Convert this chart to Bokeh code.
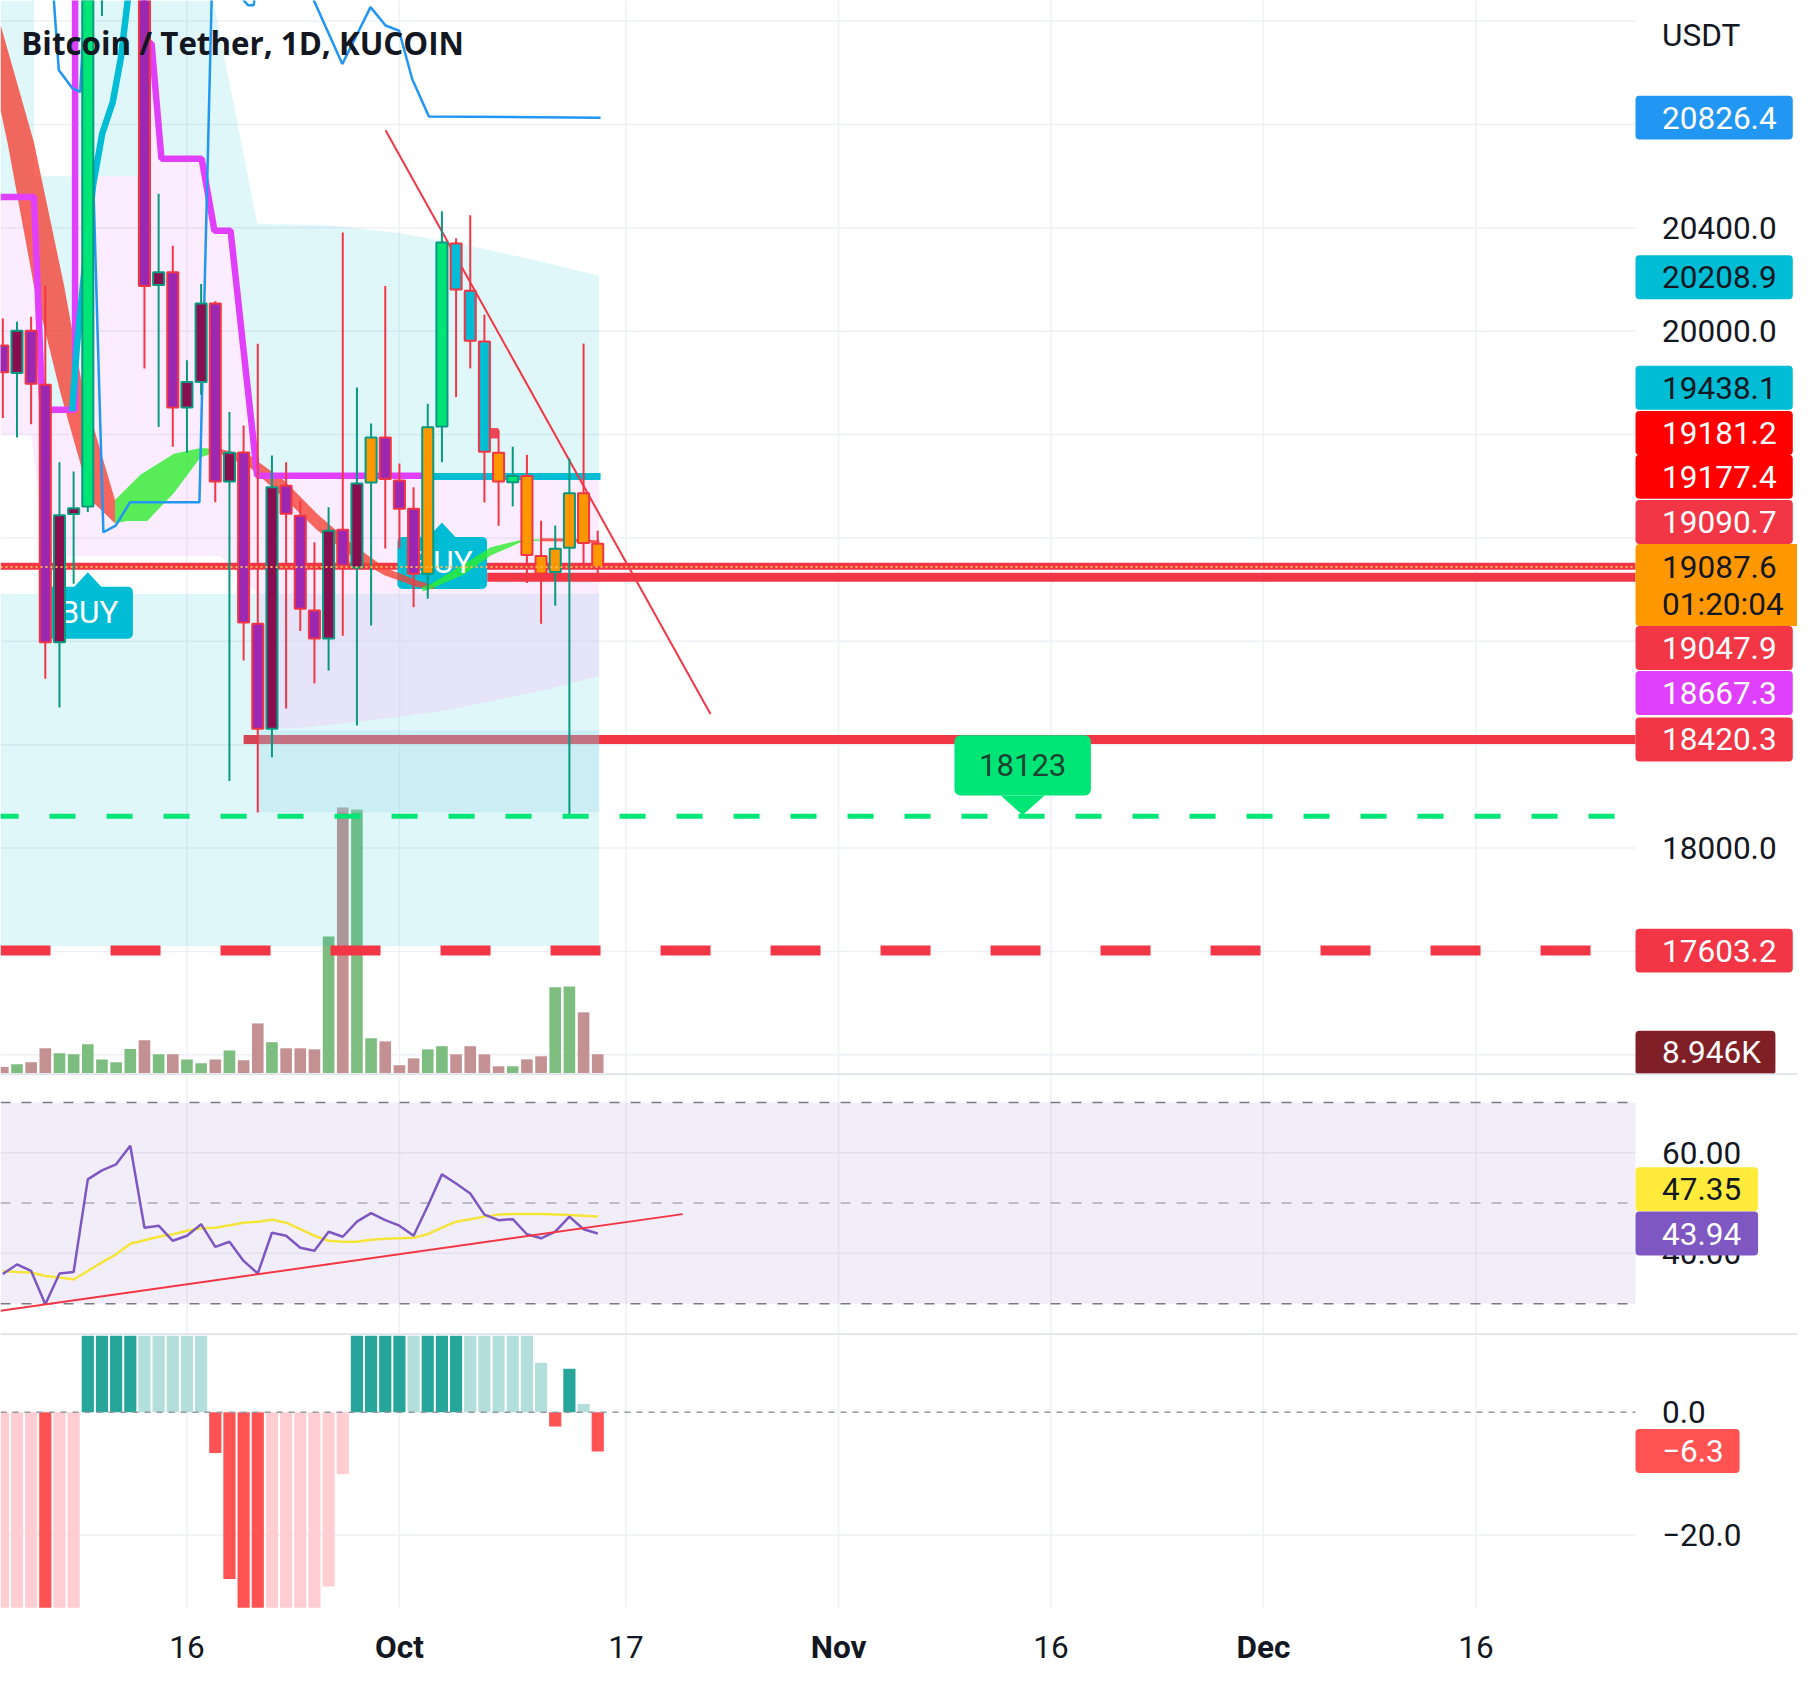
import numpy as np
import pandas as pd
from bokeh.plotting import figure
from bokeh.layouts import column
from bokeh.models import Range1d
from bokeh.core.properties import value
from bokeh.embed import file_html
from bokeh.resources import INLINE

# =============================== DATA ===============================
dates = pd.date_range("2022-09-03", "2022-10-15", freq="D")
ORIGIN = pd.Timestamp("2022-10-01")
day = np.asarray((dates - ORIGIN).days, dtype=float)

open_ = [19945, 19838, 20002, 19793, 18796, 19293, 19322, 21360, 21650, 21770,
         22390, 20179, 20228, 19705, 19803, 20107, 19418, 19531, 18868, 18462,
         19402, 19286, 18919, 18811, 19232, 19086, 19415, 19589, 19422, 19313,
         19061, 19631, 20339, 20157, 19960, 19530, 19416, 19440, 19130, 19068,
         19162, 19373, 19178]
high_ = [20049, 20037, 20056, 20176, 19493, 19457, 21500, 21800, 21830, 22480,
         22780, 20532, 20331, 19888, 20183, 20116, 19687, 19635, 19951, 19519,
         19493, 19344, 19183, 19319, 20382, 19782, 19643, 20175, 19488, 19396,
         19719, 20464, 20360, 20449, 20064, 19618, 19553, 19522, 19267, 19248,
         19507, 19952, 19228]
low_ = [19664, 19589, 19640, 18655, 18544, 19023, 19300, 21220, 21370, 21560,
        19856, 19629, 19553, 19530, 19754, 19338, 18260, 18726, 18138, 18351,
        18540, 18840, 18637, 18687, 18822, 18474, 18861, 19159, 19160, 18932,
        18965, 19493, 19745, 19856, 19337, 19247, 19322, 19026, 18868, 18938,
        18123, 19086, 19061]
close_ = [19841, 20002, 19797, 18796, 19288, 19315, 21360, 21650, 21770, 22390,
          20175, 20228, 19705, 19803, 20107, 19418, 19530, 18873, 18462, 19396,
          19294, 18926, 18811, 19228, 19093, 19411, 19589, 19428, 19313, 19061,
          19628, 20343, 20161, 19963, 19534, 19418, 19440, 19134, 19062, 19158,
          19373, 19180, 19087.6]
# candle colouring state of the indicator: p=purple, m=maroon, g=green, c=cyan, o=orange
body_state = list("pmppmmggggpmpmmpmppmpppmpmopppogcccogoooooo")

volume_k = [2.9, 4.2, 5.1, 11.8, 9.4, 8.9, 13.7, 6.5, 5.1, 11.5,
            15.6, 8.9, 8.9, 6.5, 4.6, 6.5, 10.8, 6.1, 23.7, 14.7,
            11.8, 11.8, 11.3, 65.3, 127.0, 126.0, 16.6, 15.1, 3.7, 7.0,
            11.3, 12.8, 8.9, 12.8, 8.9, 3.2, 3.2, 6.5, 8.0, 41.0,
            41.4, 29.0, 8.946]

rsi = [35.9, 37.8, 36.5, 29.9, 36.0, 36.3, 54.7, 56.5, 57.7, 61.4,
       45.1, 45.5, 42.5, 43.5, 45.8, 41.3, 42.3, 38.5, 36.0, 44.1,
       43.5, 41.1, 40.5, 44.3, 43.3, 46.3, 48.0, 46.6, 45.5, 43.5,
       49.4, 55.7, 53.9, 51.9, 47.7, 46.6, 46.8, 43.8, 43.0, 44.3,
       47.3, 44.8, 43.94]
rsi_ma = [36.5, 36.3, 36.2, 35.5, 35.2, 34.8, 36.5, 38.2, 39.8, 41.9,
          42.6, 43.3, 43.8, 44.5, 45.0, 45.1, 45.6, 46.1, 46.3, 46.7,
          46.1, 44.8, 43.5, 42.5, 42.3, 42.3, 42.7, 42.9, 43.0, 43.1,
          43.8, 45.1, 46.3, 46.8, 47.3, 47.7, 47.8, 47.8, 47.8, 47.7,
          47.6, 47.5, 47.35]
rsi_trend_d = [-28.16, 20.0]
rsi_trend_v = [28.6, 47.8]

macd_hist = [-45, -42, -40, -48, -44, -38, 20, 26, 31, 34,
             31, 27, 23, 19, 15, -6.65, -27.2, -36, -42, -40,
             -38, -36, -34, -28.4, -10.1, 14, 19, 23, 26, 24,
             27, 31, 33, 30, 25, 20, 16, 13, 8.1, -2.3,
             7.1, 1.35, -6.38]

# indicator overlays on the price pane (day offset from Oct 1, price)
mag_d = [-28.16, -25.8, -25.2, -22.9, -22.9, -18.04, -18.04, -17.5, -16.8, -13.96, -13.06, -11.92, -10.04, 1.63]
mag_p = [20519, 20519, 19696, 19696, 21500, 21500, 21114, 21114, 20667, 20667, 20389, 20389, 19441, 19441]
cyan_d = [-23.1, -22.78, -22.29, -21.63, -20.98, -20.24, -19.67, -19.18, -18.8]
cyan_p = [19691, 19937, 20206, 20564, 20765, 20886, 21056, 21280, 21450]
cyan2_d = [1.63, 14.2]
cyan2_p = [19438.1, 19438.1]
blue_d = [-24.51, -24.05, -23.10, -22.53, -22.12, -21.80, -21.63, -20.90, -20.03, -19.02, -14.12,
          -13.22, -11.27, -10.98, -10.69, -10.29, -10.04, -6.29, -6.04, -4.03, -2.04, -0.98, -0.03,
          0.90, 2.08, 14.20]
blue_p = [21369, 21011, 20941, 20926, 21369, 21369, 20608, 19222, 19248, 19338, 19338,
          21369, 21369, 21280, 21261, 21261, 21369, 21369, 21280, 21034, 21254, 21183, 21163,
          20976, 20831, 20826.4]
trend_d = [-0.98, 21.96]
trend_p = [20778, 18519]

# ribbon (two MAs) segments
r1_up_d = [-28.16, -25.8, -23.67, -22.29, -20.08]
r1_up_p = [21186, 20730, 20175, 19759, 19347]
r1_lo_d = [-28.16, -27.67, -25.8, -23.92, -21.8, -20.08]
r1_lo_p = [20855, 20730, 20175, 19759, 19347, 19257]
r2_up_d = [-20.08, -18.29, -15.92, -14.04, -12.65]
r2_up_p = [19347, 19445, 19526, 19548, 19544]
r2_lo_d = [-20.08, -19.2, -17.8, -15.92, -14.04, -12.65]
r2_lo_p = [19257, 19266, 19266, 19374, 19512, 19535]
r3_d = [-12.65, -10.53, -8.16, -5.80, -3.35, -1.06, 1.31, 2.45]
r3_up = [19544, 19517, 19423, 19293, 19177, 19087, 19034, 19016]
r3_lo = [19526, 19472, 19356, 19230, 19128, 19056, 19009, 19002]
r4_d = [1.63, 2.2, 4.57, 6.45, 8.57, 10.04]
r4_up = [19011, 19022, 19099, 19164, 19192, 19195]
r4_lo = [18993, 19002, 19060, 19132, 19183, 19190]
r5_d = [10.04, 12.0, 14.12]
r5_p = [19193, 19192, 19184]

# shaded zones
u_top_d = [-28.16, -25.8, -25.8, -22.9, -22.9, -13.14, -10.04, -5.0, 0.0, 5.0, 10.0, 14.1]
u_top_p = [21280, 21280, 20600, 20600, 21280, 21280, 20416, 20410, 20380, 20330, 20270, 20215]
cm_d = [-28.16, -25.8, -25.2, -22.9, -22.9, -18.04, -18.04, -17.5, -16.8, -13.96, -13.06, -11.92, -10.04, 14.1]
cm_p = [20519, 20519, 19696, 19696, 20600, 20600, 21114, 21114, 20667, 20667, 20389, 20389, 19441, 19441]
pb_d = [-28.16, -26.0, -25.0, -12.65, -10.04, 14.1]
pb_p = [19600, 19600, 19130, 19130, 18984, 18984]
low_zone = (-28.16, 14.1, 18984, 17620)
box_zone = (-10.04, 14.1, 18456, 18139)
v_top = 18984
v_d = [-10.04, -6.0, -0.25, 3.5, 6.7, 10.5, 14.1]
v_p = [18456, 18470, 18506, 18535, 18571, 18615, 18667]

# horizontal levels (value, start day)
lvl_19090 = (19090.7, -28.16)
lvl_19047 = (19047.9, 6.2)
lvl_18420 = (18420.3, -11.0)
lvl_18123 = (18123.0, -28.16)
lvl_17603 = (17603.2, -28.16)
flag_box = (6.2, 7.0, 19625, 19585)

buy_days = [-22.0, 3.0]
buy_prices = [19067, 19260]
note_day, note_price, note_text = 44.0, 18123, "18123"

# axis ticks
xtick_days = [-15, 0, 16, 31, 46, 61, 76]
xtick_labels = ["16", "Oct", "17", "Nov", "16", "Dec", "16"]
xtick_bold = [False, True, False, True, False, True, False]
price_grid = [17200, 17600, 18000, 18400, 18800, 19200, 19600, 20000, 20400, 20800, 21200]
price_ticks = [20400, 20000, 18000]
price_tick_labels = ["20400.0", "20000.0", "18000.0"]

tag_text = ["20826.4", "20208.9", "19438.1", "19181.2", "19177.4", "19090.7", "19047.9", "18667.3", "18420.3", "17603.2"]
tag_value = [20826.4, 20208.9, 19438.1, 19181.2, 19177.4, 19090.7, 19047.9, 18667.3, 18420.3, 17603.2]
tag_fill = ["#2196f3", "#00bcd4", "#00bcd4", "#ff0000", "#ff0000", "#f23645", "#f23645", "#e040fb", "#f23645", "#f23645"]
tag_ink = ["white", "#131722", "#131722", "white", "white", "white", "white", "white", "white", "white"]
last_price, countdown = 19087.6, "01:20:04"
vol_tag = (8.946, "8.946K")

# ======================= LAYOUT / SCALES ==========================
# layout units: reference screen units; K real pixels per unit
K = 1.1563
O = 0.0
W, H1, H2, H3 = 1797, 1075, 260, 331
B0 = O
B1 = B0 + H1 / K
B2 = B1 + H2 / K
B3 = B2 + H3 / K
SX0, SX1 = O, O + W / K

OCT1_X, DAY_PX = 345.0, 12.25
PRICE_REF, PRICE_Y, PRICE_PX = 20000.0, 286.0, 0.2235
VOL_Y, VOL_PX = 927.5, 1.808
RSI_REF, RSI_Y, RSI_PX = 50.0, 1040.0, 4.35
MACD_Y, MACD_PX = 1221.0, 5.3
PLOT_RIGHT = 1414.0
MACD_BOTTOM = 1390.0

def d_of(x): return (x - OCT1_X) / DAY_PX
def p_of(y): return PRICE_REF - (y - PRICE_Y) / PRICE_PX
def v_of(y): return (VOL_Y - y) / VOL_PX
def r_of(y): return RSI_REF - (y - RSI_Y) / RSI_PX
def m_of(y): return -(y - MACD_Y) / MACD_PX

def sx(d): return OCT1_X + np.asarray(d, float) * DAY_PX
def sy_price(v): return PRICE_Y + (PRICE_REF - np.asarray(v, float)) * PRICE_PX
def sy_vol(v): return VOL_Y - v * VOL_PX
def sy_rsi(v): return RSI_Y + (RSI_REF - v) * RSI_PX
def sy_macd(v): return MACD_Y - v * MACD_PX

X0, X1 = d_of(SX0), d_of(SX1)
XR = d_of(PLOT_RIGHT)
MACD_FLOOR = m_of(MACD_BOTTOM)

FONT = value("Roboto")
FS = "31.5px"
INK = "#131722"
GRID = "#eef0f5"
UP_EDGE, DN_EDGE = "#089981", "#f23645"
BODY = {"p": "#9c27b0", "m": "#880e4f", "g": "#00e676", "c": "#00bcd4", "o": "#ff9800"}

xr = Range1d(X0, X1)

def make(h, y0, y1, s_top, s_bot):
    p = figure(width=W, height=h, x_range=xr, y_range=Range1d(y0, y1),
               x_axis_type=None, y_axis_type=None, toolbar_location=None,
               output_backend="svg", min_border=0)
    p.min_border_left = p.min_border_right = p.min_border_top = p.min_border_bottom = 0
    p.title.visible = False
    p.outline_line_color = None
    p.background_fill_color = "white"
    p.border_fill_color = "white"
    p.extra_x_ranges = {"sx": Range1d(SX0, SX1)}
    p.extra_y_ranges = {"sy": Range1d(s_bot, s_top)}
    return p

def txt(p, xs, ys, texts, color=INK, size=FS, align="left", style="normal", font=FONT):
    p.text(x=list(xs), y=list(ys), text=list(texts), text_color=color, text_font=font,
           text_font_size=size, text_align=align, text_baseline="middle",
           text_font_style=style, x_range_name="sx", y_range_name="sy")

def boxes(p, lefts, rights, tops, bottoms, colors, radius=4):
    p.quad(left=list(lefts), right=list(rights), top=list(tops), bottom=list(bottoms),
           fill_color=colors, line_color=None, border_radius=radius,
           x_range_name="sx", y_range_name="sy")

# ============================ PRICE PANE ============================
p1 = make(H1, p_of(B1), p_of(B0), B0, B1)
p1.extra_y_ranges = {"sy": Range1d(B1, B0), "vol": Range1d(v_of(B1), v_of(B0))}

p1.segment(x0=X0, y0=price_grid, x1=XR, y1=price_grid, line_color=GRID, line_width=1.5)
p1.segment(x0=xtick_days, y0=p_of(B1), x1=xtick_days, y1=p_of(B0), line_color=GRID, line_width=1.5)

up = np.array(close_) >= np.array(open_)
vol_col = ["#7dbd80" if u else "#c39192" for u in up]
p1.vbar(x=day, top=volume_k, bottom=0, width=0.82, fill_color=vol_col, line_color=None,
        y_range_name="vol")

p1.line([lvl_18420[1], XR], [lvl_18420[0]] * 2, line_color="#f23645", line_width=9)

# shaded zones
p1.patch(u_top_d + cm_d[::-1], u_top_p + cm_p[::-1], fill_color="#00bcd4", fill_alpha=0.12, line_color=None)
p1.patch(cm_d + pb_d[::-1], cm_p + pb_p[::-1], fill_color="#e040fb", fill_alpha=0.1, line_color=None)
p1.quad(left=[low_zone[0]], right=[low_zone[1]], top=[low_zone[2]], bottom=[low_zone[3]],
        fill_color="#00bcd4", fill_alpha=0.12, line_color=None)
p1.patch([v_d[0], v_d[-1]] + v_d[::-1], [v_top, v_top] + v_p[::-1],
         fill_color="#ead1f6", fill_alpha=0.5, line_color=None)
p1.quad(left=[box_zone[0]], right=[box_zone[1]], top=[box_zone[2]], bottom=[box_zone[3]],
        fill_color="#9ddce9", fill_alpha=0.3, line_color=None)

# level lines below labels and candles
p1.line([lvl_19047[1], XR], [lvl_19047[0]] * 2, line_color="#f23645", line_width=9)
p1.line([lvl_19090[1], XR], [lvl_19090[0]] * 2, line_color="#f23645", line_width=7)

# BUY label shapes
buy_xy = [(float(sx(d)), float(sy_price(pr))) for d, pr in zip(buy_days, buy_prices)]
for tx, ty in buy_xy:
    p1.patch([tx - 12, tx, tx + 12], [ty + 13, ty, ty + 13], fill_color="#00bcd4",
             line_color=None, x_range_name="sx", y_range_name="sy")
    boxes(p1, [tx - 38.5], [tx + 39], [ty + 12.5], [ty + 57.5], "#00bcd4", radius=5)

# ribbon
p1.patch(r1_up_d + r1_lo_d[::-1], r1_up_p + r1_lo_p[::-1], fill_color="#f44336", fill_alpha=0.8, line_color=None)
p1.patch(r2_up_d + r2_lo_d[::-1], r2_up_p + r2_lo_p[::-1], fill_color="#2eed2e", fill_alpha=0.8, line_color=None)
p1.patch(r3_d + r3_d[::-1], r3_up + r3_lo[::-1], fill_color="#f44336", fill_alpha=0.8, line_color=None)
p1.patch(r4_d + r4_d[::-1], r4_up + r4_lo[::-1], fill_color="#2eed2e", fill_alpha=0.8, line_color=None)
p1.line(r5_d, r5_p, line_color="#f44336", line_width=3, line_alpha=0.85)

for tx, ty in buy_xy:
    txt(p1, [tx + 1], [ty + 35], ["BUY"], color="white", align="center")

# trailing lines
p1.line(mag_d, mag_p, line_color="#e040fb", line_width=6.5)
p1.line(cyan_d, cyan_p, line_color="#00bcd4", line_width=6.5)
p1.line(cyan2_d, cyan2_p, line_color="#00bcd4", line_width=7)
p1.line(blue_d, blue_p, line_color="#2196f3", line_width=2.5)
p1.line(trend_d, trend_p, line_color="#f23645", line_width=2)
p1.quad(left=[flag_box[0]], right=[flag_box[1]], top=[flag_box[2]], bottom=[flag_box[3]],
        fill_color="#e84855", line_color=None)

# candles
edge = [UP_EDGE if u else DN_EDGE for u in up]
fills = [BODY[s] for s in body_state]
p1.segment(x0=day, y0=low_, x1=day, y1=high_, line_color=edge, line_width=2)
p1.quad(left=day - 0.39, right=day + 0.39,
        top=np.maximum(open_, close_), bottom=np.minimum(open_, close_),
        fill_color=fills, line_color=edge, line_width=2)

# last-price dotted line and other levels on top
p1.line([X0, XR], [last_price] * 2, line_color="#ffb74d", line_width=2, line_dash="2 3")
p1.line([lvl_17603[1], XR], [lvl_17603[0]] * 2, line_color="#f23645", line_width=10, line_dash="50 60")
p1.line([lvl_18123[1], XR], [lvl_18123[0]] * 2, line_color="#00e676", line_width=5,
        line_dash="26 31", line_dash_offset=8)

# 18123 note
tx, ty = float(sx(note_day)), float(sy_price(note_price))
p1.patch([tx - 19, tx, tx + 19], [ty - 18, ty - 1, ty - 18], fill_color="#00e676",
         line_color=None, x_range_name="sx", y_range_name="sy")
boxes(p1, [tx - 59], [tx + 59], [ty - 70], [ty - 18], "#00e676", radius=6)
txt(p1, [tx], [ty - 44], [note_text], color="#1b4332", size="31px", align="center")

# right scale of price pane
TX = 1437
txt(p1, [TX], [30], ["USDT"])
txt(p1, [TX] * len(price_ticks), [float(sy_price(v)) for v in price_ticks], price_tick_labels)
tag_shift = [0, 0, -76.6, -95, -57.9, -38.2, 61.2, 15.1, 0, 0]
tag_y = [float(sy_price(v)) + s for v, s in zip(tag_value, tag_shift)]
boxes(p1, [PLOT_RIGHT] * len(tag_y), [1550] * len(tag_y), [y - 19 for y in tag_y], [y + 19 for y in tag_y], tag_fill)
txt(p1, [TX] * len(tag_y), tag_y, tag_text, color=tag_ink)
ly = float(sy_price(last_price)) + 15.6
boxes(p1, [PLOT_RIGHT], [1557], [ly - 35.5], [ly + 35.5], "#ff9800")
txt(p1, [TX, TX], [ly - 15.5, ly + 16.5], [f"{last_price:.1f}", countdown])
vy = float(sy_vol(vol_tag[0])) - 1.3
boxes(p1, [PLOT_RIGHT], [1535], [vy - 19], [vy + 19], "#801f26")
txt(p1, [TX], [vy], [vol_tag[1]], color="white")

txt(p1, [18], [37], ["Bitcoin / Tether, 1D, KUCOIN"], size="31.3px", style="bold", font=value("Open Sans"))
p1.segment(x0=[SX0], y0=[B1 - 1], x1=[SX1], y1=[B1 - 1], line_color="#e0e3eb", line_width=2,
           x_range_name="sx", y_range_name="sy")

# ============================= RSI PANE =============================
p2 = make(H2, r_of(B2), r_of(B1), B1, B2)
p2.segment(x0=xtick_days, y0=r_of(B2), x1=xtick_days, y1=r_of(B1), line_color=GRID, line_width=1.5)
p2.quad(left=[X0], right=[XR], top=[70], bottom=[30], fill_color="#7e57c2", fill_alpha=0.1, line_color=None)
p2.segment(x0=X0, y0=[60, 40], x1=XR, y1=[60, 40], line_color="#e3e0ee", line_width=1.5)
p2.segment(x0=X0, y0=[70, 30], x1=XR, y1=[70, 30], line_color="#787b86", line_width=1.5, line_dash="10 11")
p2.segment(x0=[X0], y0=[50], x1=[XR], y1=[50], line_color="#a9acb6", line_width=1.5, line_dash="10 11")
p2.line(day, rsi_ma, line_color="#f5e53b", line_width=2.5)
p2.line(day, rsi, line_color="#7e57c2", line_width=2.5)
p2.line(rsi_trend_d, rsi_trend_v, line_color="#f23645", line_width=2)
txt(p2, [TX, TX], [sy_rsi(60), sy_rsi(40)], ["60.00", "40.00"])
ry = [sy_rsi(47.35) - 23.5, sy_rsi(43.94)]
boxes(p2, [PLOT_RIGHT] * 2, [1520, 1520], [y - 19 for y in ry], [y + 19 for y in ry], ["#ffeb3b", "#7e57c2"])
txt(p2, [TX, TX], ry, ["47.35", "43.94"], color=[INK, "white"])
p2.segment(x0=[SX0], y0=[B2 - 1], x1=[SX1], y1=[B2 - 1], line_color="#e0e3eb", line_width=2,
           x_range_name="sx", y_range_name="sy")

# ============================ MACD PANE =============================
p3 = make(H3, m_of(B3), m_of(B2), B2, B3)
p3.segment(x0=xtick_days, y0=MACD_FLOOR, x1=xtick_days, y1=m_of(B2), line_color=GRID, line_width=1.5)
p3.segment(x0=[X0], y0=[-20], x1=[XR], y1=[-20], line_color=GRID, line_width=1.5)
h = np.array(macd_hist, float)
prev = np.concatenate([[h[0]], h[:-1]])
hcol = []
for v, pv in zip(h, prev):
    if v >= 0:
        hcol.append("#26a69a" if v > pv else "#b2dfdb")
    else:
        hcol.append("#ff5252" if v < pv else "#ffcdd2")
p3.vbar(x=day, top=np.maximum(h, MACD_FLOOR), bottom=0, width=0.86, fill_color=hcol, line_color=None)
p3.segment(x0=[X0], y0=[0], x1=[XR], y1=[0], line_color="#9598a1", line_width=1.5, line_dash="6 6")
txt(p3, [TX, TX], [sy_macd(0), sy_macd(-20)], ["0.0", "\u221220.0"])
my = sy_macd(-6.3)
boxes(p3, [PLOT_RIGHT], [1504], [my - 19], [my + 19], "#ff5252")
txt(p3, [TX], [my], ["\u22126.3"], color="white")

tx_norm = [sx(d) for d, b in zip(xtick_days, xtick_bold) if not b]
tl_norm = [l for l, b in zip(xtick_labels, xtick_bold) if not b]
tx_bold = [sx(d) for d, b in zip(xtick_days, xtick_bold) if b]
tl_bold = [l for l, b in zip(xtick_labels, xtick_bold) if b]
txt(p3, tx_norm, [1424] * len(tx_norm), tl_norm, align="center")
txt(p3, tx_bold, [1424] * len(tx_bold), tl_bold, align="center", style="bold")

layout = column(p1, p2, p3, spacing=0)
open("out.html", "w").write(file_html(layout, INLINE))
